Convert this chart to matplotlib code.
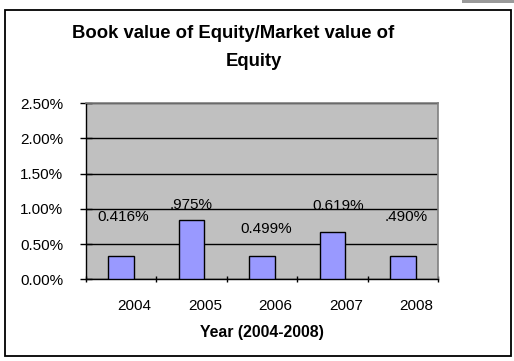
import numpy as np
import matplotlib
matplotlib.use("Agg")
import matplotlib.pyplot as plt
import matplotlib.transforms as mtransforms
from matplotlib.patches import Rectangle

plt.rcParams['font.family'] = ['Liberation Sans', 'DejaVu Sans']

# data (bar heights as drawn, labels as printed)
years = ['2004', '2005', '2006', '2007', '2008']
values = [0.33, 0.84, 0.33, 0.67, 0.33]
labels = ['0.416%', '.975%', '0.499%', '0.619%', '.490%']
yticks = [0.0, 0.5, 1.0, 1.5, 2.0, 2.5]

fig = plt.figure(figsize=(5.14, 3.61), dpi=100)
ax = fig.add_axes([0.1667, 0.2263, 0.686, 0.4876])

x = np.arange(len(years))
ax.bar(x, values, width=0.36, color='#9999FF', edgecolor='black', linewidth=1.0, zorder=3)

# data labels
lab_dx = [0.03, 0.0, 0.06, 0.08, 0.05]
lab_y = [0.88, 1.05, 0.72, 1.04, 0.88]
for xi, lbl, dx, yy in zip(x, labels, lab_dx, lab_y):
    ax.text(xi + dx, yy, lbl, ha='center', va='center', fontsize=11, zorder=4)

ax.set_xlim(-0.5, len(years) - 0.5)
ax.set_ylim(0, 2.5)
ax.set_facecolor('#C0C0C0')
ax.set_yticks(yticks)
ax.set_yticklabels(['%.2f%%' % v for v in yticks], fontsize=11)
ax.yaxis.grid(True, color='black', linewidth=1.0, zorder=1)
ax.set_axisbelow(True)

ax.set_xticks(x)
ax.set_xticklabels(years, fontsize=11)
ax.set_xticks(np.arange(len(years) + 1) - 0.5, minor=True)
ax.tick_params(axis='x', which='major', length=0, pad=14)
ax.tick_params(axis='x', which='minor', direction='inout', length=5, width=1, color='black')
ax.tick_params(axis='y', direction='inout', length=8, width=1, color='black', pad=12)

# the year labels sit a little to the right of the category centres
offset = mtransforms.ScaledTranslation(13.5 / 100, 0, fig.dpi_scale_trans)
for t in ax.get_xticklabels():
    t.set_transform(t.get_transform() + offset)

for side in ['top', 'right']:
    ax.spines[side].set_color('#808080')
    ax.spines[side].set_linewidth(1.2)
for side in ['left', 'bottom']:
    ax.spines[side].set_color('black')
    ax.spines[side].set_linewidth(1.0)

ax.set_xlabel('Year (2004-2008)', fontsize=11.4, fontweight='bold', labelpad=9)

# title, wrapped on two lines as in the source
fig.text(233.5 / 514, 1 - 38.3 / 361, 'Book value of Equity/Market value of',
         ha='center', va='baseline', fontsize=13.3, fontweight='bold')
fig.text(254.2 / 514, 1 - 66 / 361, 'Equity',
         ha='center', va='baseline', fontsize=13.3, fontweight='bold')

# outer chart frame and the grey strip in the top right corner
fig.patches.append(Rectangle((5 / 514, 1 - 356 / 361), 505.7 / 514, 346.5 / 361,
                             transform=fig.transFigure, fill=False,
                             edgecolor='black', linewidth=1.3))
fig.patches.append(Rectangle((462 / 514, 1 - 3 / 361), 52 / 514, 3 / 361,
                             transform=fig.transFigure, facecolor='#9a9a9a',
                             edgecolor='none'))

fig.savefig('out.png', dpi=100)
